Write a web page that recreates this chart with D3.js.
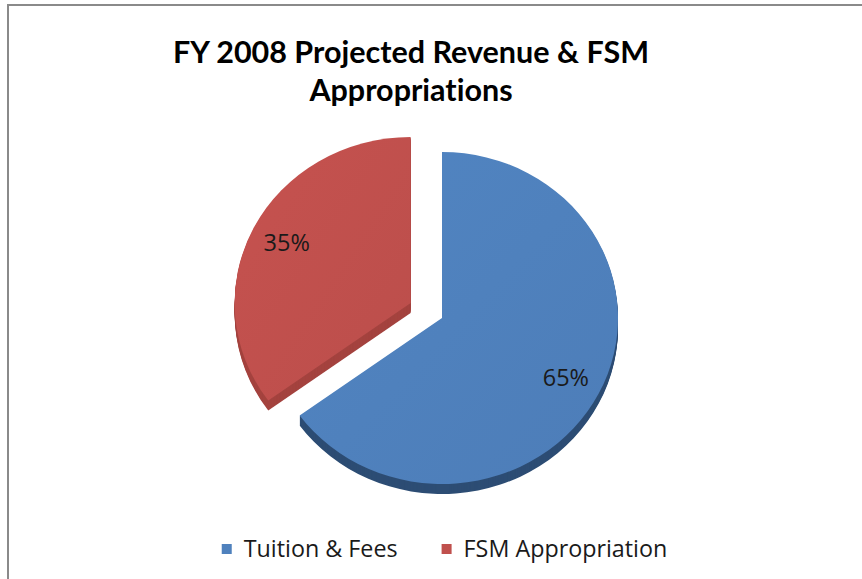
<!DOCTYPE html>
<html>
<head>
<meta charset="utf-8">
<script src="https://cdn.jsdelivr.net/npm/d3@7"></script>
<style>
  body { margin: 0; background: #fff; }
  svg { display: block; font-family: "Open Sans", Lato, sans-serif; font-variant-ligatures: none; }
</style>
</head>
<body>
<div id="chart"></div>
<script>
// data
const categories = ["Tuition & Fees", "FSM Appropriation"]
const shares = [65, 35]
const explode = [0, 0.2]
const topColors = ["#4f81bd", "#c0504d"]
const sideColors = ["#2d4d74", "#a4433f"]
const titleLines = ["FY 2008 Projected Revenue & FSM", "Appropriations"]

const width = 862
const height = 579

const svg = d3.select("#chart")
  .append("svg")
    .attr("width", width)
    .attr("height", height)

// chart area border (runs off the right / bottom of the picture)
svg.append("rect")
    .attr("x", 8)
    .attr("y", 5)
    .attr("width", 900)
    .attr("height", 620)
    .attr("fill", "#fff")
    .attr("stroke", "#8a8a8a")
    .attr("stroke-width", 2)

// title
svg.append("g")
  .selectAll("text")
  .data(titleLines)
  .join("text")
    .attr("x", 411)
    .attr("y", (d, i) => 63 + i * 38)
    .attr("text-anchor", "middle")
    .attr("font-family", "Lato, sans-serif")
    .attr("font-size", 30.5)
    .attr("font-weight", "bold")
    .attr("fill", "#000")
    .text(d => d)

// pie
const cx = 442, cy = 318, rx = 176, ry = 166, depth = 10

const pie = d3.pie().sort(null).value(d => d.value)
const slices = pie(categories.map((c, i) => ({
  name: c, value: shares[i], explode: explode[i],
  top: topColors[i], side: sideColors[i]
})))

const arc = d3.arc().innerRadius(0).outerRadius(rx)

slices.forEach(s => {
  const mid = (s.startAngle + s.endAngle) / 2
  s.ox = s.data.explode * rx * Math.sin(mid)
  s.oy = -s.data.explode * ry * Math.cos(mid)
  s.mid = mid
})

const pieG = svg.append("g")

// extruded sides: stacked copies moved down
const layers = d3.range(depth, 0, -1)
slices.forEach(s => {
  pieG.append("g")
    .selectAll("path")
    .data(layers)
    .join("path")
      .attr("transform", d => `translate(${cx + s.ox},${cy + s.oy + d}) scale(1,${ry / rx})`)
      .attr("d", arc(s))
      .attr("fill", s.data.side)
})

const defs = svg.append("defs")
slices.forEach((s, i) => {
  const g = defs.append("linearGradient")
      .attr("id", "shade" + i)
      .attr("x1", 0).attr("y1", 0).attr("x2", 1).attr("y2", 1)
  g.append("stop").attr("offset", "0%").attr("stop-color", d3.color(s.data.top).brighter(0.08))
  g.append("stop").attr("offset", "100%").attr("stop-color", d3.color(s.data.top).darker(0.08))
})

pieG.selectAll(".slice")
  .data(slices)
  .join("path")
    .attr("class", "slice")
    .attr("transform", d => `translate(${cx + d.ox},${cy + d.oy}) scale(1,${ry / rx})`)
    .attr("d", arc)
    .attr("fill", (d, i) => `url(#shade${i})`)

// data labels
const labelR = 0.79
pieG.selectAll(".label")
  .data(slices)
  .join("text")
    .attr("class", "label")
    .attr("x", d => cx + d.ox + labelR * rx * Math.sin(d.mid))
    .attr("y", d => cy + d.oy - labelR * ry * Math.cos(d.mid) + 8)
    .attr("text-anchor", "middle")
    .attr("font-size", 23.5)
    .attr("fill", "#1a1a1a")
    .text(d => d3.format(".0%")(d.value / d3.sum(shares)))

// legend
const legend = svg.append("g")
const items = legend.selectAll("g")
  .data(categories)
  .join("g")

items.append("rect")
    .attr("width", 10)
    .attr("height", 10)
    .attr("y", 544)
    .attr("fill", (d, i) => topColors[i])

items.append("text")
    .attr("x", 22)
    .attr("y", 557)
    .attr("font-size", 23.3)
    .attr("fill", "#1a1a1a")
    .text(d => d)

const itemWidths = items.nodes().map(n => 22 + n.querySelector("text").getComputedTextLength())
const spacing = 44
const total = d3.sum(itemWidths) + spacing * (itemWidths.length - 1)
let x = 444.5 - total / 2
items.attr("transform", (d, i) => {
  const t = `translate(${x},0)`
  x += itemWidths[i] + spacing
  return t
})
</script>
</body>
</html>
